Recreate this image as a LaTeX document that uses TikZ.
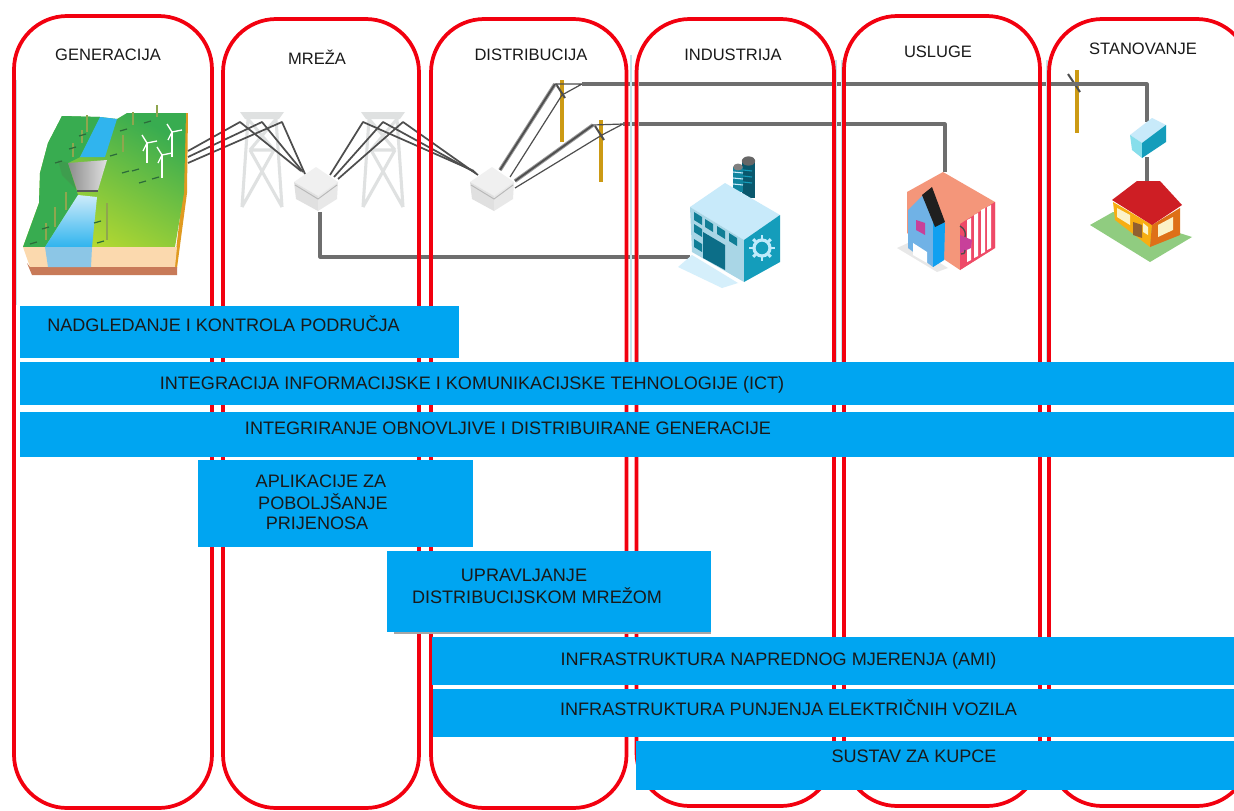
\documentclass[tikz,border=0pt]{standalone}
\usepackage{fontspec}
\setmainfont{Liberation Sans}
\definecolor{barblue}{HTML}{00A5F1}
\definecolor{colred}{HTML}{F2000F}
\definecolor{wire}{HTML}{6E6E6E}
\definecolor{wired}{HTML}{4E4E4E}
\definecolor{wirel}{HTML}{9A9A9A}
\definecolor{pylong}{HTML}{DFE1E1}
\definecolor{poleg}{HTML}{CC9A14}
\definecolor{edgeteal}{HTML}{C2E4EC}
\definecolor{treeol}{HTML}{8FA64E}
\definecolor{treedk}{HTML}{2C6B3A}
\definecolor{salmon}{HTML}{F4967A}
\definecolor{hpink}{HTML}{EE4A68}
\definecolor{hblue}{HTML}{70B2E6}
\definecolor{hblued}{HTML}{10A0F0}
\definecolor{mag}{HTML}{C8409A}
\definecolor{fteal}{HTML}{149DBB}
\definecolor{froof}{HTML}{C8EAFA}
\definecolor{fwall}{HTML}{A9D6E6}
\definecolor{fdark}{HTML}{0C6E88}
\definecolor{froom}{HTML}{D5EFFB}
\definecolor{roofr}{HTML}{CE1E24}
\definecolor{wally}{HTML}{F7AE12}
\definecolor{wallo}{HTML}{DE7018}
\definecolor{cream}{HTML}{FBF2C8}
\definecolor{lawn}{HTML}{90CC80}
\definecolor{grassd}{HTML}{38AC50}
\definecolor{grassm}{HTML}{58B84A}
\definecolor{grassl}{HTML}{BEDC2E}
\definecolor{riverb}{HTML}{30B4EE}
\definecolor{riverl}{HTML}{CDEBFA}
\definecolor{sandc}{HTML}{FBD9AE}
\definecolor{soilc}{HTML}{C87A58}
\definecolor{sidec}{HTML}{E09A20}
\definecolor{waterf}{HTML}{8CC6E6}
\tikzset{
  colbox/.style={draw=colred,line width=2.8pt,rounded corners=40pt},
  bar/.style={fill=barblue,draw=none},
  lab/.style={font=\fontsize{13.55}{15}\selectfont,inner sep=0pt,text=black!90},
  ttl/.style={font=\fontsize{12.4}{14}\selectfont,inner sep=0pt,text=black!90},
  hvwire/.style={draw=wire,line width=2.4pt,line join=round},
  hv/.style={draw=wired,line width=1.3pt,line join=round},
  hvs/.style={draw=wirel,line width=2.8pt},
  pole/.style={draw=poleg,line width=3.4pt},
  pics/pylon/.style={code={
    \fill[pylong] (-22,0) -- (22,0) -- (17,7) -- (-17,7) -- cycle;
    \draw[pylong,line width=2.3pt,line join=round]
      (-14,7) -- (-20,95) (14,7) -- (20,95)
      (-12,38) -- (12,38) (-12,38) -- (20,95) (12,38) -- (-20,95)
      (-14,7) -- (12,38) (14,7) -- (-12,38);
  }},
  pics/xfmr/.style={code={
    \fill[black!6] (0,-20) -- (22,-5) -- (2,9) -- (-22,-5) -- cycle;
    \fill[black!12] (-22,-5) -- (2,9) -- (2,24) -- (-20,12) -- cycle;
    \fill[black!9] (22,-5) -- (2,9) -- (2,24) -- (21,12) -- cycle;
    \draw[black!28,line width=.7pt] (-21,-2) -- (2,12) -- (21,-2);
  }},
}
\begin{document}
\begin{tikzpicture}[x=0.75pt,y=-0.75pt]
\useasboundingbox (0,0) rectangle (1234,810);
\clip (0,0) rectangle (1234,810);
\fill[white] (0,0) rectangle (1234,810);

% landscape
\fill[sidec] (188,113) -- (187,193) -- (177,268) -- (174,268) -- (183,190) -- (185,113) -- cycle;
\shade[left color=grassd, middle color=grassm, right color=grassl, shading angle=-30]
  (62,116) -- (100,117) -- (117,119) -- (127,113) -- (186,113) -- (184,193) -- (175,247) -- (23,247)
  -- (39,203) -- (40,173) -- (48,143) -- cycle;
\fill[grassd] (62,116) -- (100,117) -- (80,157) -- (68,163) -- (78,195) -- (45,247) -- (23,247)
  -- (39,203) -- (40,173) -- (48,143) -- cycle;
\fill[sandc] (23,247) -- (177,247) -- (175,267) -- (30,267) -- cycle;
\fill[soilc] (27,263) -- (30,267) -- (177,267) -- (177,275) -- (32,275) -- cycle;
\fill[riverb] (100,117) -- (117,119) -- (105,157) -- (80,157) -- cycle;
\shade[top color=riverl,bottom color=riverb] (78,195) -- (97,197) -- (92,247) -- (45,247) -- cycle;
\fill[waterf] (45,247) -- (92,247) -- (91,267) -- (48,267) -- cycle;
\fill[green!30!black!70,opacity=.35] (58,160) -- (68,163) -- (77,190) -- (62,175) -- cycle;
\shade[left color=black!45,right color=black!12] (68,163) -- (107,160) -- (98,190) -- (77,190) -- cycle;
\draw[black!65,line width=1.4pt] (77,191) -- (98,191);
% trees
\foreach \tx/\ty/\tz in {87/115/132,133/112/125,157/105/117,123/135/152,82/130/143,73/143/157,66/192/210,55/207/227,46/223/240,107/203/240}{
  \draw[treeol,line width=1.3pt] (\tx,\ty) -- (\tx,\tz);
}
\foreach \dx/\dy in {58/162,113/155,123/130,147/122,72/148,82/135,97/222,100/242,33/243,45/228,125/172,142/182,155/178,135/170}{
  \draw[treedk,line width=.9pt] (\dx-3,\dy+1) -- (\dx+4,\dy-1);
}
% wind turbines
\foreach \wx/\wy/\wz in {147/143/163,172/132/157,162/155/178}{
  \draw[white,line width=1.6pt] (\wx,\wy) -- (\wx,\wz);
  \draw[white,line width=1pt] (\wx,\wy) -- (\wx-5,\wy-8) (\wx,\wy) -- (\wx+10,\wy-2) (\wx,\wy) -- (\wx-4,\wy+8);
}

% pylons
\pic at (262,112) {pylon};
\pic at (383,112) {pylon};
% poles
\draw[pole] (562,80) -- (562,142);
\draw[pole] (601,120) -- (601,182);
\draw[pole] (1077,70) -- (1077,133);
\draw[wired,line width=1.5pt] (556,84) -- (565,98) (595,126) -- (604,140) (1068,74) -- (1080,92);

% transformers
\pic at (316,187) {xfmr};
\pic at (492,187) {xfmr};
\coordinate (gen1) at (188,151);
\coordinate (gen2) at (188,157);
\coordinate (gen3) at (188,163);
\coordinate (t1a) at (240,122);
\coordinate (t1b) at (262,122);
\coordinate (t1c) at (282,122);
\coordinate (x1a) at (301,171);
\coordinate (x1b) at (303,172);
\coordinate (x1c) at (305,174);
\coordinate (x2a) at (330,175);
\coordinate (x2b) at (334,177);
\coordinate (x2c) at (338,179);
\coordinate (t2a) at (363,122);
\coordinate (t2b) at (383,122);
\coordinate (t2c) at (403,122);
\coordinate (x3a) at (474,171);
\coordinate (x3b) at (476,173);
\coordinate (x3c) at (478,175);
\coordinate (x4a) at (500,170);
\coordinate (x4b) at (510,177);
\coordinate (x4c) at (515,181);
\coordinate (x4d) at (515,188);
\coordinate (arm1) at (555,84);
\coordinate (arm1b) at (562,95);
\coordinate (arm1e) at (582,84);
\coordinate (arm2) at (593,125);
\coordinate (arm2b) at (602,135);
\coordinate (arm2e) at (623,124);
\foreach \a/\b/\c in {gen1/t1a/x1a,gen2/t1b/x1b,gen3/t1c/x1c,x2a/t2a/x3a,x2b/t2b/x3b,x2c/t2c/x3c}{
  \draw[hv] (\a) -- (\b) -- (\c);
}
\draw[hvs] (x4a) -- (arm1);
\draw[hv] (x4a) -- (arm1);
\draw[hv,line width=.9pt] (x4b) -- (arm1b) -- (arm1e) -- (arm1);
\draw[hvs] (x4c) -- (arm2);
\draw[hv] (x4c) -- (arm2);
\draw[hv,line width=.9pt] (x4d) -- (arm2b) -- (arm2e) -- (arm2);

% service lines
\coordinate (xf) at (320,212);
\coordinate (fa) at (690,257);
\coordinate (hs) at (945,172);
\coordinate (bx) at (1147,122);
\coordinate (bxb) at (1147,157);
\coordinate (rf) at (1147,182);
\draw[hvwire] (xf) |- (fa);
\draw[hvwire] (arm1e) -- (1147,84) -- (bx);
\draw[hvwire] (arm2e) -- (945,124) -- (hs);
\draw[hvwire] (bxb) -- (rf);

% factory
\fill[froom] (678,267) -- (692,255) -- (738,283) -- (722,288) -- cycle;
\fill[fdark!80!black] (742,160) rectangle (755,198);
\fill[fteal!85!black] (733,167) rectangle (743,192);
\foreach \sy in {172,178,184}{\draw[froof,line width=.8pt] (733,\sy) -- (743,\sy+1);}
\foreach \sy in {170,176,182}{\draw[fteal,line width=.8pt] (743,\sy) -- (752,\sy+1);}
\fill[black!60] (748.5,161) ellipse (5pt and 3.5pt);
\fill[black!50] (738,167) ellipse (3.6pt and 2.6pt);
\fill[froof] (725,183) -- (780,215) -- (744,240) -- (690,207) -- cycle;
\fill[fwall] (690,207) -- (744,240) -- (744,282) -- (692,252) -- cycle;
\fill[fteal] (744,240) -- (780,215) -- (780,262) -- (744,282) -- cycle;
\foreach \wx/\wy in {694/212,705/219,717/226,729/233,694/224,694/239}{
  \fill[fteal!80!black] (\wx,\wy) -- (\wx+8,\wy+5) -- (\wx+8,\wy+13) -- (\wx,\wy+8) -- cycle;
}
\fill[fdark] (703,232) -- (725,245) -- (725,270) -- (703,258) -- cycle;
\draw[white!75!cyan,line width=2.4pt] (762,248) circle (6pt);
\foreach \ang in {0,45,...,315}{
  \draw[white!75!cyan,line width=2.2pt] (762,248) ++(\ang:7pt) -- ++(\ang:2.4pt);
}

% service building
\fill[black!9] (897,248) -- (908,243) -- (948,268) -- (937,272) -- cycle;
\fill[salmon] (943,172) -- (995,202) -- (995,248) -- (960,270) -- (945,260) -- (907,233) -- (907,192) -- cycle;
\fill[hpink] (995,202) -- (995,248) -- (960,270) -- (960,224) -- cycle;
\foreach \sx/\sa/\sb in {967/220/262,974/215/258,981/210/254,987/207/250}{
  \fill[white] (\sx,\sa) -- (\sx+4,\sa-2) -- (\sx+4,\sb-2) -- (\sx,\sb) -- cycle;
}
\fill[hblue] (908,210) -- (923,195) -- (945,223) -- (944,260) -- (933,267) -- (908,248) -- cycle;
\fill[hblued] (933,223) -- (945,223) -- (944,260) -- (933,267) -- cycle;
\fill[black!88] (922,195) -- (932,187) -- (945,222) -- (935,227) -- cycle;
\fill[white] (913,243) -- (927,252) -- (927,263) -- (913,255) -- cycle;
\fill[mag] (916,220) -- (925,223) -- (925,235) -- (916,230) -- cycle;
\fill[mag] (960,235) -- (972,240) -- (971,248) -- (960,253) -- cycle;
\draw[black!70,line width=1pt] (960,226) .. controls (965,229) and (966,233) .. (965,237) (965,250) .. controls (965,254) and (963,254) .. (961,254);

% residential
\fill[lawn] (1090,225) -- (1113,212) -- (1192,237) -- (1150,262) -- cycle;
\fill[wally] (1113,202) -- (1152,225) -- (1150,247) -- (1115,220) -- cycle;
\fill[wallo] (1152,225) -- (1180,208) -- (1180,235) -- (1150,247) -- cycle;
\fill[cream] (1117,208) -- (1130,215) -- (1130,225) -- (1117,217) -- cycle;
\fill[cream] (1158,225) -- (1173,217) -- (1173,230) -- (1158,237) -- cycle;
\fill[cream] (1143,223) -- (1148,227) -- (1148,235) -- (1143,232) -- cycle;
\fill[brown!75!black] (1133,222) -- (1142,225) -- (1142,238) -- (1133,235) -- cycle;
\fill[roofr] (1112,200) -- (1137,181) -- (1160,181) -- (1182,205) -- (1152,225) -- cycle;
% meter box
\fill[froof] (1130,135) -- (1152,118) -- (1166,125) -- (1142,143) -- cycle;
\fill[fwall!80!cyan] (1130,135) -- (1142,143) -- (1142,158) -- (1132,150) -- cycle;
\fill[fteal] (1142,143) -- (1166,125) -- (1166,142) -- (1142,158) -- cycle;

% columns
\foreach \ex/\ey/\ez in {16.5/80/305,631/55/362,638/55/362,836/60/362,842/60/362,1047/60/362}{
  \draw[edgeteal,line width=.8pt] (\ex,\ey) -- (\ex,\ez);
}
\draw[colbox] (14,16) rectangle (212,808);
\draw[colbox] (223,19) rectangle (419,808);
\draw[colbox] (431,19) rectangle (626.5,808);
\draw[colbox] (636.5,19) rectangle (834,806);
\draw[colbox] (844,16) rectangle (1040,806);
\draw[colbox] (1049,19) rectangle (1250,806);

% column titles
\node[ttl] (tgen) at (108,55) {GENERACIJA};
\node[ttl] (tmre) at (317,57) {MREŽA};
\node[ttl] (tdis) at (531,55) {DISTRIBUCIJA};
\node[ttl] (tind) at (733,55) {INDUSTRIJA};
\node[ttl] (tusl) at (938,52) {USLUGE};
\node[ttl] (tsta) at (1143,49) {STANOVANJE};

% bars
\fill[bar] (20,306) rectangle (459,358);
\fill[bar] (20,362) rectangle (1234,405);
\fill[bar] (20,412) rectangle (1234,457);
\fill[bar] (198,460) rectangle (473,547);
\fill[black!35] (394,632) rectangle (711,634);
\fill[bar] (387,551) rectangle (711,632);
\fill[bar] (432,637) rectangle (1234,685);
\fill[bar] (433,689) rectangle (1234,737);
\fill[bar] (636,741) rectangle (1234,790);

\node[lab] (lnad) at (223.5,324) {NADGLEDANJE I KONTROLA PODRUČJA};
\node[lab] (lint) at (472,385) {INTEGRACIJA INFORMACIJSKE I KOMUNIKACIJSKE TEHNOLOGIJE (ICT)};
\node[lab] (lobn) at (508,428) {INTEGRIRANJE OBNOVLJIVE I DISTRIBUIRANE GENERACIJE};
\node[lab] (lap1) at (321,481) {APLIKACIJE ZA};
\node[lab] (lap2) at (323,502) {POBOLJŠANJE};
\node[lab] (lap3) at (317,523) {PRIJENOSA};
\node[lab] (lup1) at (524,575) {UPRAVLJANJE};
\node[lab] (lup2) at (537,596) {DISTRIBUCIJSKOM MREŽOM};
\node[lab] (lami) at (778.5,661) {INFRASTRUKTURA NAPREDNOG MJERENJA (AMI)};
\node[lab] (lpun) at (788.5,708) {INFRASTRUKTURA PUNJENJA ELEKTRIČNIH VOZILA};
\node[lab] (lkup) at (914,756) {SUSTAV ZA KUPCE};
\end{tikzpicture}
\end{document}
